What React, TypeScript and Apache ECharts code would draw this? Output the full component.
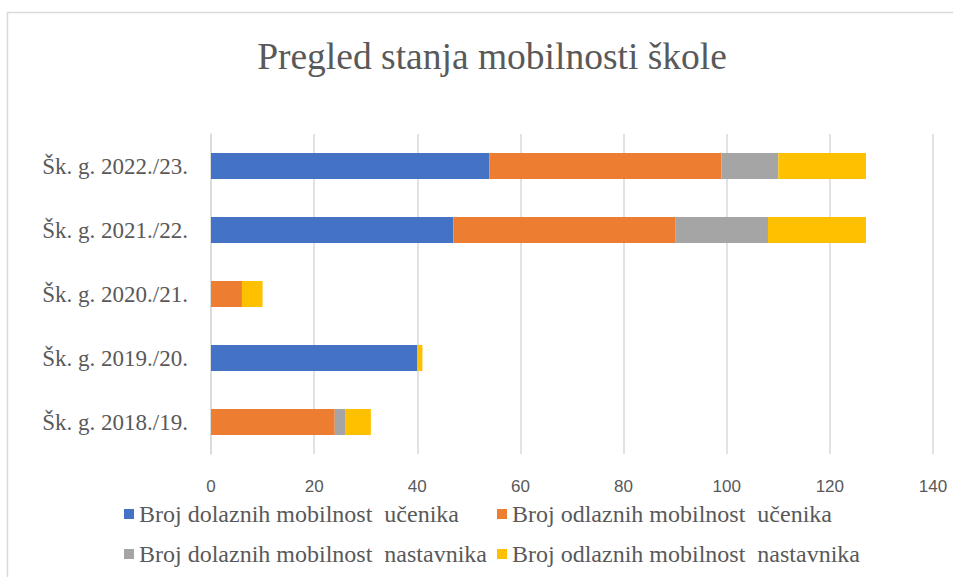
import React, { useEffect, useRef } from "react";
import * as echarts from "echarts";

const categories = [
  "Šk. g. 2018./19.",
  "Šk. g. 2019./20.",
  "Šk. g. 2020./21.",
  "Šk. g. 2021./22.",
  "Šk. g. 2022./23.",
];
const seriesNames = [
  "Broj dolaznih mobilnost  učenika",
  "Broj odlaznih mobilnost  učenika",
  "Broj dolaznih mobilnost  nastavnika",
  "Broj odlaznih mobilnost  nastavnika",
];
const dolazniUcenici = [0, 40, 0, 47, 54];
const odlazniUcenici = [24, 0, 6, 43, 45];
const dolazniNastavnici = [2, 0, 0, 18, 11];
const odlazniNastavnici = [5, 1, 4, 19, 17];
const colors = ["#4472C4", "#ED7D31", "#A5A5A5", "#FFC000"];
const xTicks = { min: 0, max: 140, interval: 20 };

const SERIF = "'Liberation Serif', 'Times New Roman', serif";
const SANS = "'Liberation Sans', Arial, sans-serif";

export default function App() {
  const ref = useRef<HTMLDivElement>(null);
  useEffect(() => {
    if (!ref.current) return;
    const chart = echarts.init(ref.current, undefined, { renderer: "svg" });
    const values = [dolazniUcenici, odlazniUcenici, dolazniNastavnici, odlazniNastavnici];
    const legendPos = [
      { left: 124, top: 502 },
      { left: 497, top: 502 },
      { left: 124, top: 542 },
      { left: 497, top: 542 },
    ];
    chart.setOption({
      animation: false,
      backgroundColor: "#ffffff",
      title: {
        text: "Pregled stanja mobilnosti škole",
        left: 487,
        textAlign: "center",
        top: 32,
        textStyle: { fontFamily: SERIF, fontSize: 37.5, fontWeight: "normal", color: "#595959" },
      },
      graphic: [
        {
          type: "rect",
          shape: { x: 7.5, y: 12.5, width: 1000, height: 700 },
          style: { fill: "none", stroke: "#d9d9d9", lineWidth: 1.5 },
          silent: true,
        },
      ],
      legend: seriesNames.map((n, i) => ({
        data: [n],
        left: legendPos[i].left,
        top: legendPos[i].top,
        itemWidth: 10,
        itemHeight: 10,
        icon: "rect",
        padding: 0,
        textStyle: { fontFamily: SERIF, fontSize: 24, color: "#595959" },
      })),
      grid: { left: 211, right: 20, top: 134, bottom: 123, containLabel: false },
      xAxis: {
        type: "value",
        min: xTicks.min,
        max: xTicks.max,
        interval: xTicks.interval,
        axisLine: { show: false },
        axisTick: { show: false },
        splitLine: { show: true, lineStyle: { color: "#d9d9d9", width: 1.5 } },
        axisLabel: { fontFamily: SANS, fontSize: 17, color: "#595959", margin: 24 },
      },
      yAxis: {
        type: "category",
        data: categories,
        axisLine: { show: true, lineStyle: { color: "#d9d9d9", width: 1.5 } },
        axisTick: { show: false },
        axisLabel: { fontFamily: SERIF, fontSize: 23, color: "#595959", margin: 23 },
      },
      series: seriesNames.map((n, i) => ({
        name: n,
        type: "bar",
        stack: "total",
        data: values[i],
        barWidth: 26,
        itemStyle: { color: colors[i] },
      })),
    });
    return () => chart.dispose();
  }, []);
  return (
    <div
      ref={ref}
      style={{ position: "fixed", left: 0, top: 0, width: 953, height: 577 }}
    />
  );
}
